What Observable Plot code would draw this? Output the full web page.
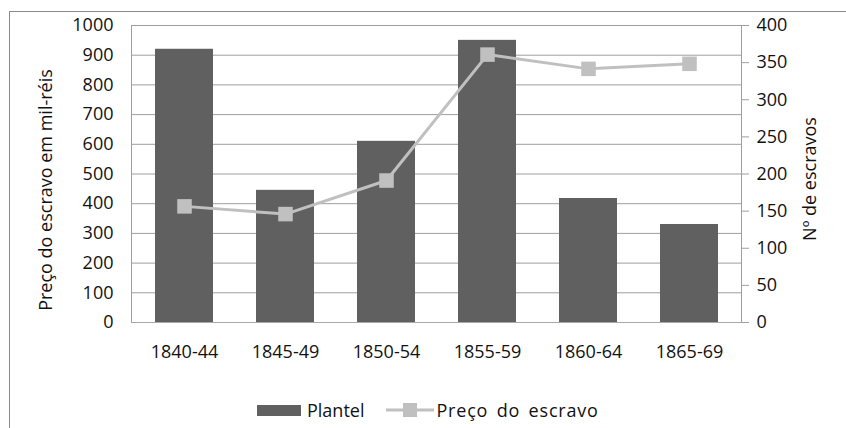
<!DOCTYPE html>
<html>
<head>
<meta charset="utf-8">
<script src="https://cdn.jsdelivr.net/npm/d3@7"></script>
<script src="https://cdn.jsdelivr.net/npm/@observablehq/plot@0.6"></script>
<style>
  html, body { margin: 0; padding: 0; background: #fff; }
  #chart { position: relative; width: 846px; height: 428px; overflow: hidden; font-family: "Open Sans", sans-serif; }
  #border { position: absolute; left: 9px; top: 11px; right: -2px; bottom: -2px; border-top: 1px solid #8a8a8a; border-left: 1px solid #8a8a8a; }
  .layer { position: absolute; left: 0; top: 0; }
  #legend { position: absolute; left: 257px; top: 398px; height: 24px; display: flex; align-items: center; font-size: 18px; color: #111; white-space: nowrap; }
  .sw-bar { display: inline-block; width: 44px; height: 11px; background: #606060; margin-right: 6px; }
  .sw-line { display: inline-block; width: 48px; height: 20px; margin-left: 22px; margin-right: 2px; }
  .lt2 { letter-spacing: 0.8px; word-spacing: 3px; }
</style>
</head>
<body>
<div id="chart">
  <div id="border"></div>
</div>
<script>
// ---- data ----
const periods = ["1840-44", "1845-49", "1850-54", "1855-59", "1860-64", "1865-69"];
const plantel = [368, 178, 244, 380, 167, 132];          // Nº de escravos (right axis)
const preco = [391, 365, 478, 902, 854, 871];            // Preço do escravo em mil-réis (left axis)
const leftTicks = [0, 100, 200, 300, 400, 500, 600, 700, 800, 900, 1000];
const rightTicks = [0, 50, 100, 150, 200, 250, 300, 350, 400];
const seriesNames = ["Plantel", "Preço do escravo"];
const leftLabel = "Preço do escravo em mil-réis";
const rightLabel = "Nº de escravos";

const rows = periods.map((p, i) => ({period: p, plantel: plantel[i], preco: preco[i]}));

const W = 846, H = 360;
const common = {
  width: W, height: H,
  marginLeft: 131, marginRight: 105, marginTop: 25, marginBottom: 38,
  style: {fontFamily: "Open Sans, sans-serif", fontSize: "18px", color: "#111", background: "transparent", overflow: "visible"},
  x: {type: "band", domain: periods, paddingInner: 0.43, paddingOuter: 0.215, align: 0.5}
};

// Layer A: grid + left axis + axis titles
const gridPlot = Plot.plot({
  ...common,
  y: {domain: [0, 1000]},
  marks: [
    Plot.gridY(leftTicks.slice(1), {stroke: "#9e9e9e", strokeOpacity: 1}),
    Plot.axisY(leftTicks, {anchor: "left", tickSize: 0, tickPadding: 18, tickFormat: d => String(d), label: null}),
    Plot.frame({anchor: "left", stroke: "#9e9e9e"}),
    Plot.axisX({ticks: [], label: null}),
    Plot.text([leftLabel], {text: d => d, frameAnchor: "left", rotate: -90, dx: -85, dy: 16, textAnchor: "middle", lineAnchor: "middle", fill: "#111", fontSize: 18}),
    Plot.text([rightLabel], {text: d => d, frameAnchor: "right", rotate: -90, dx: 69, dy: 5, textAnchor: "middle", lineAnchor: "middle", fill: "#111", fontSize: 18})
  ]
});

// Layer B: bars + right axis + x axis
const barPlot = Plot.plot({
  ...common,
  y: {domain: [0, 400]},
  marks: [
    Plot.barY(rows, {x: "period", y: "plantel", fill: "#606060"}),
    Plot.ruleY([0], {stroke: "#a8a8a8"}),
    Plot.frame({anchor: "right", stroke: "#9e9e9e"}),
    Plot.axisY(rightTicks, {anchor: "right", tickSize: 7, tickPadding: 8, stroke: "#9e9e9e", tickFormat: d => String(d), label: null}),
    Plot.axisX({tickSize: 0, tickPadding: 23, label: null})
  ]
});

// Layer C: price line
const linePlot = Plot.plot({
  ...common,
  y: {domain: [0, 1000], axis: null},
  marks: [
    Plot.axisX({ticks: [], label: null}),
    Plot.line(rows, {x: "period", y: "preco", stroke: "#c0c0c0", strokeWidth: 3}),
    Plot.dot(rows, {x: "period", y: "preco", symbol: "square", r: 8.2, fill: "#c0c0c0", stroke: "none"})
  ]
});

const chart = document.getElementById("chart");
for (const p of [gridPlot, barPlot, linePlot]) {
  p.setAttribute("class", (p.getAttribute("class") || "") + " layer");
  chart.appendChild(p);
}

// Legend
const legend = document.createElement("div");
legend.id = "legend";
legend.innerHTML = `
  <span class="sw-bar"></span><span>${seriesNames[0]}</span>
  <svg class="sw-line" viewBox="0 0 48 20"><line x1="0" y1="10" x2="48" y2="10" stroke="#c0c0c0" stroke-width="3"/><rect x="17" y="3" width="14" height="14" fill="#c0c0c0"/></svg><span class="lt2">${seriesNames[1]}</span>`;
chart.appendChild(legend);
</script>
</body>
</html>
